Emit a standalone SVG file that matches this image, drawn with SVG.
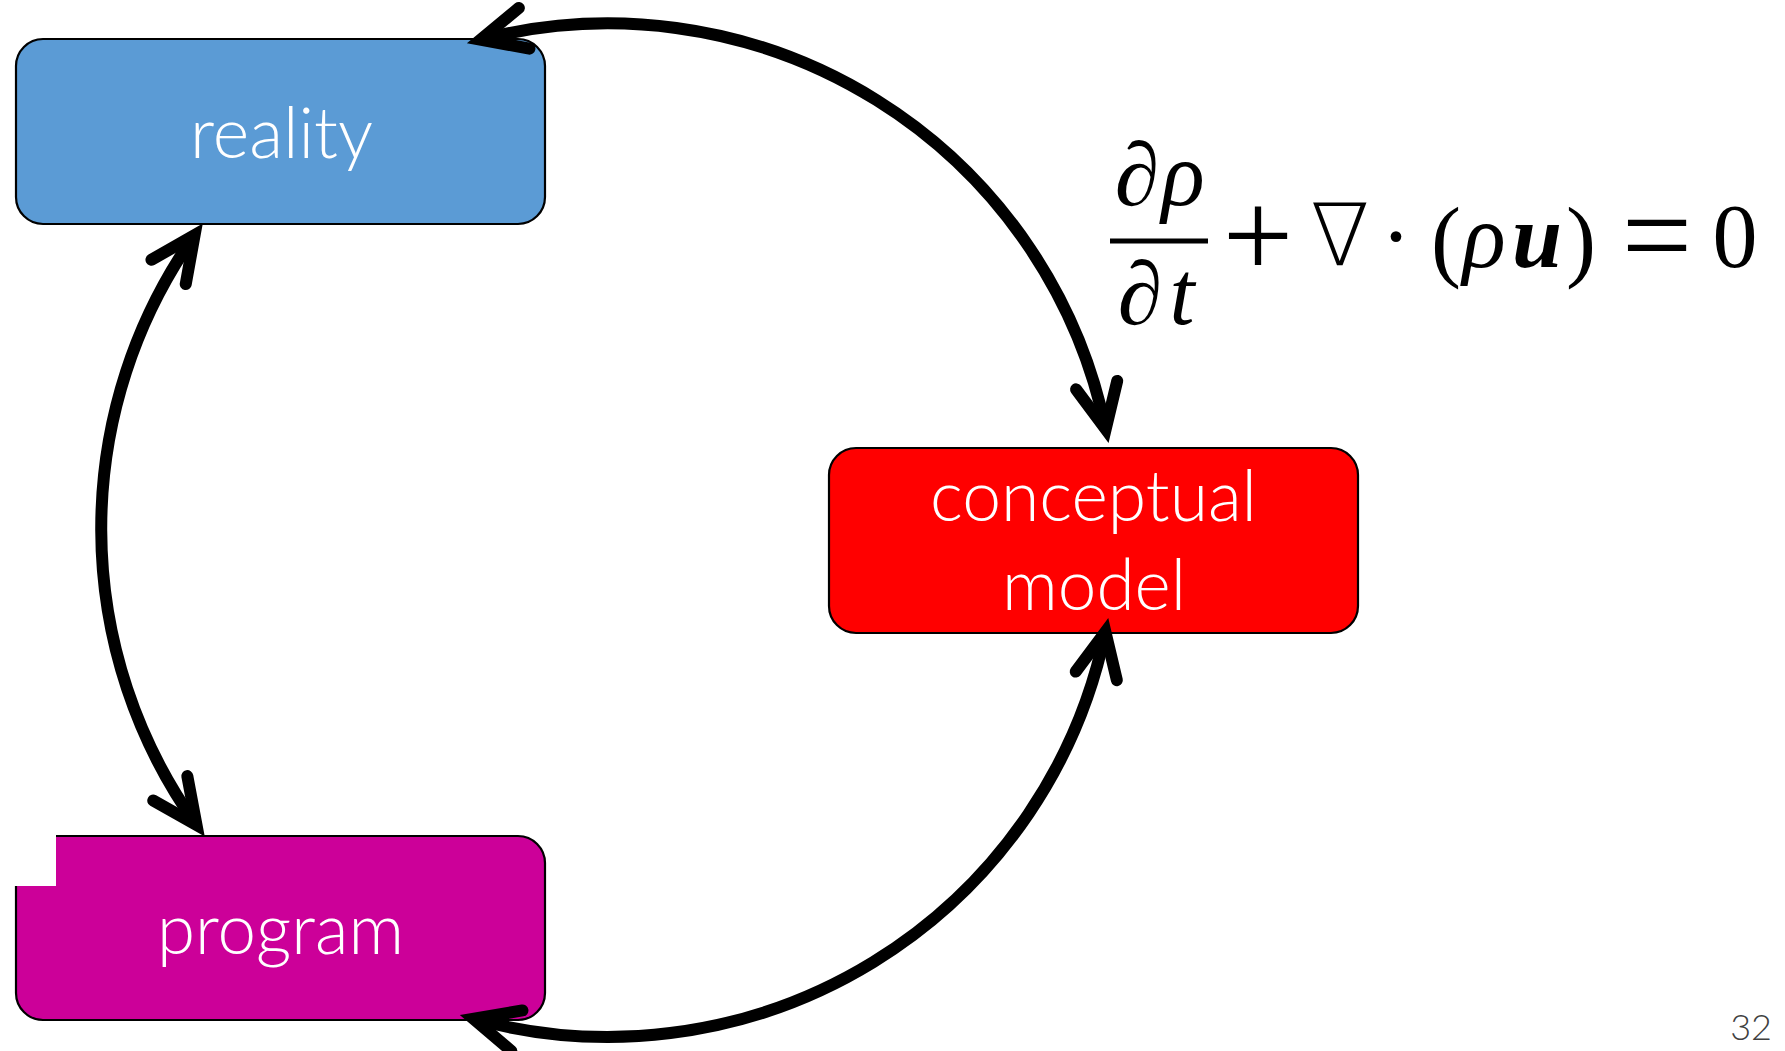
<svg xmlns="http://www.w3.org/2000/svg" width="1785" height="1051" viewBox="0 0 1785 1051">
<style>
.box{stroke:#000;stroke-width:2.2}
.lbl{font-family:Lato,"Open Sans","Liberation Sans",sans-serif;font-weight:300;font-size:70px;fill:#fff;text-anchor:middle}
.conn{fill:none;stroke:#000;stroke-width:12}
.m{font-family:"Liberation Serif","DejaVu Serif",serif;font-size:90px;fill:#000;text-anchor:middle}
.mi{font-style:italic}
.mb{font-style:italic;font-weight:bold}
.op{font-size:125px}
.nb{font-family:"DejaVu Sans","DejaVu Serif",sans-serif;font-weight:200;font-size:86px}
</style>
<defs>
<marker id="arr" markerUnits="userSpaceOnUse" orient="auto-start-reverse" refX="0" refY="0" markerWidth="10" markerHeight="10" overflow="visible">
<path d="M -45,-21 L 0,0 L -45,21" fill="none" stroke="#000" stroke-width="12" stroke-linecap="round" stroke-linejoin="miter" stroke-miterlimit="6"/>
</marker>
</defs>
<rect width="1785" height="1051" fill="#fff"/>
<g id="reality">
<rect class="box" x="16" y="39" width="529" height="185" rx="27" fill="#5B9BD5"/>
<text class="lbl" x="281.5" y="158" textLength="183" lengthAdjust="spacingAndGlyphs">reality</text>
</g>
<g id="conceptual-model">
<rect class="box" x="829" y="448" width="529" height="185" rx="27" fill="#FF0000"/>
<text class="lbl" x="1093.5" y="521" textLength="327" lengthAdjust="spacingAndGlyphs">conceptual</text>
<text class="lbl" x="1094" y="610" textLength="184" lengthAdjust="spacingAndGlyphs">model</text>
</g>
<g id="program">
<rect class="box" x="16" y="836" width="529" height="184" rx="27" fill="#CC0099"/>
<rect x="12" y="833" width="44" height="53" fill="#fff"/>
<text class="lbl" x="280.5" y="954" textLength="247" lengthAdjust="spacingAndGlyphs">program</text>
</g>
<g id="connectors">
<path class="conn" d="M 480.6,39.6 A 508 508 0 0 1 1105.7,429.2" marker-start="url(#arr)" marker-end="url(#arr)"/>
<path class="conn" d="M 1105.4,631.8 A 508 508 0 0 1 473.5,1018.8" marker-start="url(#arr)" marker-end="url(#arr)"/>
<path class="conn" d="M 194.6,235.2 A 508 508 0 0 0 196.5,824.9" marker-start="url(#arr)" marker-end="url(#arr)"/>
</g>
<g id="equation">
<text class="m mi" x="1137" y="205">∂</text>
<text class="m mi" x="1183" y="205">ρ</text>
<rect x="1110" y="238.5" width="98" height="5" fill="#000"/>
<text class="m mi" x="1140" y="324">∂</text>
<text class="m mi" x="1182" y="324">t</text>
<text class="m op" x="1258" y="277">+</text>
<text class="m nb" x="1340" y="265">∇</text>
<text class="m" x="1396" y="267">·</text>
<text class="m" x="1446" y="270">(</text>
<text class="m mi" x="1484" y="267">ρ</text>
<text class="m mb" x="1537" y="267">u</text>
<text class="m" x="1581" y="270">)</text>
<text class="m op" x="1657" y="277">=</text>
<text class="m" x="1735" y="267">0</text>
</g>
<text x="1772" y="1040" text-anchor="end" font-family="Lato,'Liberation Sans',sans-serif" font-weight="300" font-size="36" fill="#404040">32</text>
</svg>
